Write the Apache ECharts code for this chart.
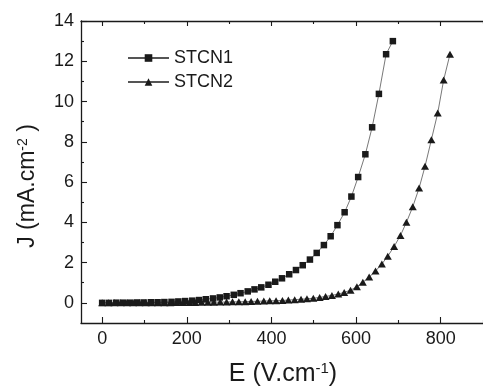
<!DOCTYPE html>
<html>
<head>
<meta charset="utf-8">
<script src="https://cdn.jsdelivr.net/npm/echarts@6/dist/echarts.min.js"></script>
<style>
html,body{margin:0;padding:0;background:#fff;}
#c{width:483px;height:390px;}
</style>
</head>
<body>
<div id="c"></div>
<script>
// ---- data ----
const seriesNames = ['STCN1', 'STCN2'];
const e1 = [0, 16, 33, 49, 65, 82, 98, 115, 131, 147, 164, 180, 196, 213, 229, 245, 262, 278, 294, 311, 327, 344, 360, 376, 393, 409, 425, 442, 458, 474, 491, 507, 524, 540, 556, 573, 589, 605, 622, 638, 654, 671, 687];
const j1 = [0.00, 0.00, 0.01, 0.01, 0.01, 0.02, 0.02, 0.03, 0.03, 0.04, 0.05, 0.07, 0.09, 0.11, 0.14, 0.18, 0.22, 0.27, 0.33, 0.40, 0.48, 0.57, 0.67, 0.77, 0.90, 1.05, 1.22, 1.42, 1.63, 1.87, 2.15, 2.48, 2.87, 3.31, 3.86, 4.50, 5.28, 6.25, 7.38, 8.72, 10.38, 12.35, 13.00];
const e2 = [0, 15, 29, 44, 59, 73, 88, 103, 117, 132, 147, 161, 176, 191, 206, 220, 235, 250, 264, 279, 294, 308, 323, 338, 352, 367, 382, 396, 411, 426, 440, 455, 470, 484, 499, 514, 528, 543, 558, 572, 587, 602, 616, 631, 646, 661, 675, 690, 705, 719, 734, 749, 763, 778, 793, 807, 822];
const j2 = [0.00, 0.00, 0.00, 0.00, 0.00, 0.01, 0.01, 0.01, 0.01, 0.01, 0.01, 0.01, 0.02, 0.02, 0.02, 0.02, 0.03, 0.03, 0.03, 0.04, 0.04, 0.05, 0.05, 0.06, 0.07, 0.08, 0.09, 0.10, 0.11, 0.12, 0.14, 0.16, 0.18, 0.20, 0.23, 0.27, 0.32, 0.37, 0.44, 0.52, 0.63, 0.80, 1.02, 1.28, 1.58, 1.93, 2.32, 2.80, 3.35, 4.00, 4.77, 5.70, 6.78, 8.10, 9.43, 11.07, 12.35];
const xMajorTicks = [0, 200, 400, 600, 800];
const xMinorTicks = [100, 300, 500, 700, 900];
const yMajorTicks = [0, 2, 4, 6, 8, 10, 12, 14];
const yMinorTicks = [1, 3, 5, 7, 9, 11, 13];
const xRange = [-50, 900];
const yRange = [-1, 14];

// ---- chart ----
const FONT = 'Liberation Sans, Arial, sans-serif';
const INK = '#1a1a1a';
const chart = echarts.init(document.getElementById('c'), null, {renderer: 'canvas'});

function xAx(pos, ticks, len, showLine, showLabel) {
  return {
    type: 'value', position: pos, min: xRange[0], max: xRange[1],
    axisLine: {show: showLine, onZero: false, lineStyle: {color: INK, width: 1.3}},
    axisTick: {show: true, inside: true, length: len, customValues: ticks, lineStyle: {color: INK, width: 1.1}},
    axisLabel: showLabel ? {show: true, customValues: ticks, margin: 7, color: INK, fontSize: 18, fontFamily: FONT} : {show: false},
    splitLine: {show: false}
  };
}
function yAx(pos, ticks, len, showLine, showLabel) {
  return {
    type: 'value', position: pos, min: yRange[0], max: yRange[1],
    axisLine: {show: showLine, onZero: false, lineStyle: {color: INK, width: 1.3}},
    axisTick: {show: true, inside: true, length: len, customValues: ticks, lineStyle: {color: INK, width: 1.1}},
    axisLabel: showLabel ? {show: true, customValues: ticks, margin: 7, color: INK, fontSize: 18, fontFamily: FONT} : {show: false},
    splitLine: {show: false}
  };
}

const option = {
  animation: false,
  backgroundColor: '#fff',
  grid: {left: 81, top: 21, right: -9, bottom: 67, containLabel: false},
  xAxis: [
    xAx('bottom', xMajorTicks, 6, true, true),
    xAx('bottom', xMinorTicks, 3, false, false),
    xAx('top', xMajorTicks, 5, true, false),
    xAx('top', xMinorTicks, 3, false, false)
  ],
  yAxis: [
    yAx('left', yMajorTicks, 6, true, true),
    yAx('left', yMinorTicks, 3, false, false)
  ],
  legend: {
    orient: 'vertical', left: 127, top: 49, padding: 0,
    itemWidth: 41, itemHeight: 9.5, itemGap: 6,
    textStyle: {fontSize: 18, fontFamily: FONT, color: INK},
    data: seriesNames
  },
  series: [
    {
      name: seriesNames[0], type: 'line', xAxisIndex: 0, yAxisIndex: 0,
      data: e1.map((e, i) => [e, j1[i]]),
      symbol: 'rect', symbolSize: 6.5,
      itemStyle: {color: INK},
      lineStyle: {color: '#555', width: 0.8},
      z: 3
    },
    {
      name: seriesNames[1], type: 'line', xAxisIndex: 0, yAxisIndex: 0,
      data: e2.map((e, i) => [e, j2[i]]),
      symbol: 'triangle', symbolSize: [8, 7],
      itemStyle: {color: INK},
      lineStyle: {color: '#555', width: 0.8},
      z: 3
    }
  ],
  graphic: [
    {
      type: 'text',
      position: [283, 374],
      style: {
        text: '{a|E (V.cm}{s|-1}{a|)}',
        x: 0, y: 0, align: 'center', verticalAlign: 'middle',
        fill: INK,
        rich: {
          a: {fontSize: 25, fontFamily: FONT, color: INK},
          s: {fontSize: 15, fontFamily: FONT, color: INK, verticalAlign: 'top'}
        }
      }
    },
    {
      type: 'text',
      position: [28, 186], rotation: Math.PI / 2,
      style: {
        text: '{a|J (mA.cm}{s|-2}{a| )}',
        x: 0, y: 0, align: 'center', verticalAlign: 'middle',
        fill: INK,
        rich: {
          a: {fontSize: 23, fontFamily: FONT, color: INK},
          s: {fontSize: 14, fontFamily: FONT, color: INK, verticalAlign: 'top'}
        }
      }
    }
  ]
};
chart.setOption(option);
</script>
</body>
</html>
